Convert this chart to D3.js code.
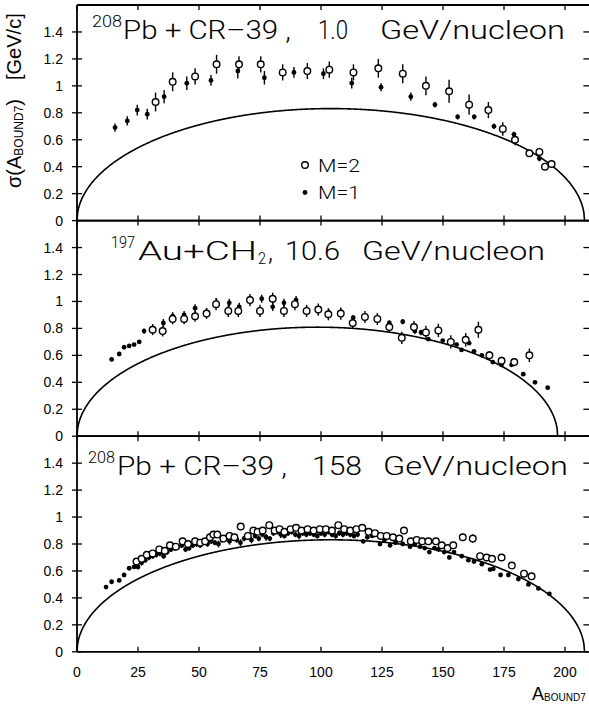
<!DOCTYPE html>
<html>
<head>
<meta charset="utf-8">
<script src="https://cdn.jsdelivr.net/npm/d3@7"></script>
<style>
  body { margin: 0; background: #fff; }
  svg { display: block; }
  text { font-family: "Liberation Sans", Arial, Helvetica, sans-serif; fill: #000; }
  text.title { font-family: Roboto, "Liberation Sans", Arial, sans-serif; font-weight: 300; }
</style>
</head>
<body>
<svg id="chart" width="589" height="706"></svg>
<script>
// ---- Panel 1: 208Pb + CR-39, 1.0 GeV/nucleon ----
const p1_m1_A     = [15.6, 20.6, 24.7, 28.8, 35.7, 45.0, 54.9, 65.9, 76.8, 88.9, 101.0, 112.6, 124.6, 136.8, 146.7, 156.0, 162.8, 170.9, 179.1, 189.5];
const p1_m1_sigma = [0.69, 0.74, 0.82, 0.79, 0.92, 1.02, 1.04, 1.11, 1.06, 1.10, 1.09, 1.02, 0.99, 0.92, 0.86, 0.77, 0.77, 0.70, 0.64, 0.46];
const p1_m1_err   = [0.03, 0.035, 0.04, 0.04, 0.05, 0.05, 0.04, 0.055, 0.05, 0.04, 0.04, 0.04, 0.03, 0.03, 0.02, 0.02, 0.02, 0.02, 0.02, 0.02];

const p1_m2_A     = [32.2, 39.2, 48.4, 57.2, 66.4, 75.3, 84.3, 94.4, 103.4, 113.3, 123.5, 133.5, 143.0, 152.5, 160.7, 168.6, 174.5, 179.5, 185.4, 189.5, 191.8, 194.5];
const p1_m2_sigma = [0.88, 1.03, 1.07, 1.16, 1.16, 1.16, 1.10, 1.11, 1.12, 1.10, 1.13, 1.09, 1.00, 0.96, 0.86, 0.82, 0.68, 0.60, 0.50, 0.51, 0.40, 0.42];
const p1_m2_err   = [0.07, 0.07, 0.06, 0.07, 0.06, 0.06, 0.06, 0.06, 0.06, 0.06, 0.07, 0.07, 0.07, 0.085, 0.075, 0.06, 0.05, 0.04, 0.02, 0.03, 0.02, 0.02];

// ---- Panel 2: 197Au + CH2, 10.6 GeV/nucleon ----
const p2_m1_A     = [14.2, 17.3, 19.3, 21.4, 23.4, 25.5, 27.5, 31.0, 35.4, 39.2, 43.9, 48.4, 53.1, 57.2, 62.4, 66.5, 70.9, 75.7, 80.2, 84.8, 89.8, 94.1, 98.9, 103.4, 108.1, 113.2, 118.0, 123.1, 128.0, 133.5, 138.5, 141.0, 144.0, 149.9, 155.6, 157.6, 160.7, 162.7, 165.9, 169.0, 170.4, 174.0, 178.1, 182.9, 187.7, 192.9];
const p2_m1_sigma = [0.57, 0.61, 0.66, 0.67, 0.68, 0.70, 0.78, 0.80, 0.84, 0.89, 0.90, 0.95, 0.92, 0.99, 0.99, 0.96, 1.01, 1.02, 0.96, 0.99, 1.01, 0.94, 0.93, 0.91, 0.92, 0.88, 0.89, 0.87, 0.84, 0.85, 0.78, 0.77, 0.72, 0.71, 0.68, 0.64, 0.69, 0.63, 0.60, 0.61, 0.55, 0.53, 0.53, 0.46, 0.40, 0.36];
const p2_m1_err   = [0.01, 0.01, 0.01, 0.01, 0.01, 0.01, 0.02, 0.03, 0.03, 0.03, 0.03, 0.03, 0.03, 0.03, 0.03, 0.03, 0.03, 0.03, 0.03, 0.03, 0.03, 0.03, 0.03, 0.03, 0.03, 0.02, 0.02, 0.02, 0.02, 0.02, 0.02, 0.02, 0.01, 0.01, 0.01, 0.01, 0.01, 0.01, 0.01, 0.01, 0.01, 0.01, 0.01, 0.01, 0.01, 0.01];

const p2_m2_A     = [31.0, 35.1, 39.2, 43.9, 48.4, 53.1, 57.0, 62.0, 66.1, 70.9, 75.0, 80.2, 84.8, 89.3, 94.1, 98.9, 103.0, 108.1, 113.0, 118.0, 123.1, 128.0, 133.1, 138.1, 143.0, 148.1, 153.2, 159.3, 164.5, 169.0, 174.0, 179.2, 185.4];
const p2_m2_sigma = [0.79, 0.78, 0.87, 0.87, 0.89, 0.91, 0.98, 0.93, 0.93, 1.01, 0.93, 1.02, 0.93, 0.98, 0.93, 0.94, 0.905, 0.91, 0.84, 0.885, 0.87, 0.81, 0.73, 0.81, 0.77, 0.785, 0.70, 0.715, 0.79, 0.60, 0.56, 0.55, 0.60];
const p2_m2_err   = [0.04, 0.04, 0.04, 0.04, 0.04, 0.04, 0.045, 0.045, 0.045, 0.045, 0.045, 0.045, 0.045, 0.045, 0.045, 0.045, 0.045, 0.045, 0.045, 0.045, 0.045, 0.045, 0.045, 0.045, 0.05, 0.05, 0.05, 0.05, 0.06, 0.03, 0.03, 0.03, 0.05];

// ---- Panel 3: 208Pb + CR-39, 158 GeV/nucleon ----
const p3_m1_A     = [11.9, 14.2, 17.3, 19.3, 21.4, 23.4, 25.0, 26.5, 28.0, 29.5, 31.0, 32.5, 34.0, 35.5, 37.0, 38.5, 40.0, 41.5, 43.0, 44.5, 46.0, 47.5, 49.0, 50.5, 52.0, 53.5, 55.0, 56.5, 58.0, 59.5, 61.0, 62.5, 64.0, 65.5, 67.0, 68.5, 70.0, 71.5, 73.0, 74.5, 76.0, 77.5, 79.0, 80.5, 82.0, 83.5, 85.0, 86.5, 88.0, 89.5, 91.0, 92.5, 94.0, 95.5, 97.0, 98.5, 100.0, 101.5, 103.0, 104.5, 106.0, 107.5, 109.0, 110.5, 112.0, 113.5, 115.0, 117.3, 119.0, 121.0, 124.2, 126.0, 128.3, 130.5, 133.5, 136.5, 138.5, 140.6, 142.5, 144.4, 146.5, 148.1, 150.5, 152.6, 154.5, 157.7, 160.4, 162.7, 165.9, 169.3, 170.6, 173.6, 176.8, 180.9, 185.0, 189.1, 193.6];
const p3_m1_sigma = [0.48, 0.52, 0.53, 0.57, 0.62, 0.63, 0.63, 0.66, 0.68, 0.70, 0.71, 0.72, 0.73, 0.71, 0.74, 0.76, 0.77, 0.78, 0.79, 0.76, 0.77, 0.79, 0.80, 0.79, 0.81, 0.80, 0.82, 0.81, 0.80, 0.83, 0.84, 0.82, 0.85, 0.83, 0.81, 0.84, 0.85, 0.83, 0.86, 0.84, 0.87, 0.85, 0.84, 0.88, 0.89, 0.87, 0.86, 0.88, 0.89, 0.87, 0.86, 0.88, 0.87, 0.88, 0.87, 0.86, 0.88, 0.87, 0.89, 0.87, 0.86, 0.88, 0.87, 0.88, 0.87, 0.86, 0.87, 0.82, 0.85, 0.86, 0.80, 0.83, 0.79, 0.81, 0.80, 0.78, 0.80, 0.78, 0.77, 0.74, 0.77, 0.76, 0.74, 0.70, 0.74, 0.71, 0.68, 0.67, 0.65, 0.61, 0.615, 0.57, 0.57, 0.54, 0.50, 0.47, 0.43];
const p3_m1_err   = [0.01, 0.01, 0.01, 0.01, 0.01, 0.015, 0.02, 0.02, 0.02, 0.02, 0.02, 0.02, 0.02, 0.02, 0.02, 0.02, 0.02, 0.02, 0.02, 0.02, 0.02, 0.02, 0.02, 0.02, 0.02, 0.02, 0.02, 0.02, 0.025, 0.02, 0.02, 0.025, 0.02, 0.02, 0.025, 0.02, 0.02, 0.025, 0.02, 0.02, 0.02, 0.025, 0.02, 0.02, 0.02, 0.025, 0.02, 0.02, 0.02, 0.02, 0.025, 0.02, 0.02, 0.02, 0.02, 0.02, 0.02, 0.02, 0.02, 0.02, 0.02, 0.02, 0.02, 0.02, 0.02, 0.02, 0.02, 0.015, 0.015, 0.015, 0.015, 0.015, 0.015, 0.015, 0.015, 0.015, 0.015, 0.015, 0.015, 0.015, 0.015, 0.015, 0.015, 0.015, 0.015, 0.01, 0.01, 0.01, 0.01, 0.01, 0.01, 0.01, 0.01, 0.01, 0.01, 0.01, 0.01];

const p3_m2_A     = [24.4, 26.5, 28.6, 31.0, 33.7, 36.0, 38.1, 40.5, 43.3, 45.5, 48.4, 50.5, 52.5, 54.5, 55.9, 57.5, 60.0, 62.5, 64.5, 67.1, 70.0, 72.3, 74.0, 76.1, 78.8, 81.0, 83.0, 85.0, 87.5, 89.8, 92.0, 94.5, 97.0, 99.5, 102.0, 104.5, 107.1, 109.5, 112.0, 114.5, 116.9, 119.5, 122.1, 124.5, 126.9, 129.5, 132.1, 134.0, 136.8, 139.2, 141.5, 144.0, 147.1, 149.5, 151.9, 154.2, 158.1, 162.2, 165.2, 167.9, 170.1, 174.0, 178.2, 183.2, 186.3];
const p3_m2_sigma = [0.67, 0.69, 0.72, 0.73, 0.76, 0.75, 0.79, 0.78, 0.82, 0.80, 0.82, 0.81, 0.82, 0.85, 0.87, 0.87, 0.84, 0.86, 0.85, 0.93, 0.86, 0.90, 0.89, 0.90, 0.94, 0.90, 0.91, 0.89, 0.91, 0.92, 0.90, 0.91, 0.90, 0.91, 0.91, 0.90, 0.94, 0.91, 0.90, 0.91, 0.92, 0.89, 0.88, 0.86, 0.86, 0.85, 0.84, 0.90, 0.82, 0.83, 0.82, 0.82, 0.82, 0.79, 0.77, 0.79, 0.85, 0.84, 0.71, 0.70, 0.69, 0.70, 0.64, 0.58, 0.56];
const p3_m2_err   = [0.02, 0.02, 0.02, 0.02, 0.02, 0.02, 0.02, 0.02, 0.02, 0.02, 0.02, 0.02, 0.02, 0.02, 0.02, 0.02, 0.02, 0.02, 0.02, 0.02, 0.02, 0.02, 0.02, 0.02, 0.02, 0.02, 0.02, 0.02, 0.02, 0.02, 0.02, 0.02, 0.02, 0.02, 0.02, 0.02, 0.02, 0.02, 0.02, 0.02, 0.02, 0.02, 0.02, 0.02, 0.02, 0.02, 0.02, 0.025, 0.02, 0.02, 0.02, 0.02, 0.02, 0.02, 0.02, 0.02, 0.025, 0.03, 0.02, 0.02, 0.02, 0.02, 0.02, 0.02, 0.02];

// Axis ticks
const xTickValues = [0, 25, 50, 75, 100, 125, 150, 175, 200];
const yTickValues = [0, 0.2, 0.4, 0.6, 0.8, 1.0, 1.2, 1.4];
const yLabelValues = [0, 0.2, 0.4, 0.6, 0.8, 1.0, 1.2, 1.4];

// Projectile masses and width parameter of the parabolic (Goldhaber) fragmentation curve
const projectileMass = [208, 197, 208];
const sigma0 = 0.115; // GeV/c

const legendLabels = ["M=2", "M=1"];

// Title fragments per panel
const titles = [
  [{t: "208", sup: true, x: 92, w: 30}, {t: "Pb + CR\u201339 ,", x: 123, w: 168}, {t: "1.0", x: 318, w: 30}, {t: "GeV/nucleon", x: 380, w: 185}],
  [{t: "197", sup: true, x: 111, w: 24}, {t: "Au+CH", x: 138, w: 119}, {t: "2", sub: true, x: 258, w: 8}, {t: ",", x: 268, w: 5}, {t: "10.6", x: 285, w: 55}, {t: "GeV/nucleon", x: 362, w: 183}],
  [{t: "208", sup: true, x: 88, w: 27}, {t: "Pb + CR\u201339 ,", x: 117, w: 170}, {t: "158", x: 312, w: 50}, {t: "GeV/nucleon", x: 383, w: 185}]
];
const titleBaseline = [34, 39, 39];

const panels = [
  {m1: [p1_m1_A, p1_m1_sigma, p1_m1_err], m2: [p1_m2_A, p1_m2_sigma, p1_m2_err]},
  {m1: [p2_m1_A, p2_m1_sigma, p2_m1_err], m2: [p2_m2_A, p2_m2_sigma, p2_m2_err]},
  {m1: [p3_m1_A, p3_m1_sigma, p3_m1_err], m2: [p3_m2_A, p3_m2_sigma, p3_m2_err]}
];

const svg = d3.select("#chart");
const left = 77, right = 589.4, top0 = 5, panelH = 215.6;
const x = d3.scaleLinear().domain([0, 210]).range([left, right]);
const fmt = d3.format("~g");

function zip(arr) { return arr[0].map((a, i) => ({A: a, s: arr[1][i], e: arr[2][i]})); }

panels.forEach((p, i) => {
  const yTop = top0 + i * panelH, yBot = yTop + panelH;
  const y = d3.scaleLinear().domain([0, 1.6]).range([yBot, yTop]);
  const g = svg.append("g");

  // frame lines
  g.append("line").attr("x1", left).attr("x2", right).attr("y1", yTop).attr("y2", yTop)
    .attr("stroke", "#000").attr("stroke-width", 1.8);
  g.append("line").attr("x1", left).attr("x2", right).attr("y1", yBot).attr("y2", yBot)
    .attr("stroke", "#000").attr("stroke-width", 1.8);
  g.append("line").attr("x1", left).attr("x2", left).attr("y1", yTop).attr("y2", yBot)
    .attr("stroke", "#000").attr("stroke-width", 1.8);

  // x ticks, inward at top and bottom
  xTickValues.forEach(v => {
    g.append("line").attr("x1", x(v)).attr("x2", x(v)).attr("y1", yTop).attr("y2", yTop + 5)
      .attr("stroke", "#000").attr("stroke-width", 1.3);
    g.append("line").attr("x1", x(v)).attr("x2", x(v)).attr("y1", yBot).attr("y2", yBot - 5)
      .attr("stroke", "#000").attr("stroke-width", 1.3);
  });
  // y ticks on left (crossing) and right (inward)
  yTickValues.forEach(v => {
    g.append("line").attr("x1", left - 5).attr("x2", left + 5).attr("y1", y(v)).attr("y2", y(v))
      .attr("stroke", "#000").attr("stroke-width", 1.3);
    g.append("line").attr("x1", right - 6).attr("x2", right).attr("y1", y(v)).attr("y2", y(v))
      .attr("stroke", "#000").attr("stroke-width", 1.3);
  });
  yLabelValues.forEach(v => {
    g.append("text").attr("x", 63).attr("y", y(v) + 5).attr("text-anchor", "end")
      .attr("font-size", 14).text(fmt(v));
  });

  // theory curve
  const Ap = projectileMass[i];
  const curveData = d3.range(0, Ap, 0.25).concat([Ap]).map(a => [a, sigma0 * Math.sqrt(a * (Ap - a) / (Ap - 1))]);
  g.append("path").datum(curveData)
    .attr("d", d3.line().x(d => x(d[0])).y(d => y(d[1])))
    .attr("fill", "none").attr("stroke", "#000").attr("stroke-width", 1.6);

  const d1 = zip(p.m1), d2 = zip(p.m2);
  // error bars
  g.selectAll(null).data(d1.concat(d2)).enter().append("line")
    .attr("x1", d => x(d.A)).attr("x2", d => x(d.A))
    .attr("y1", d => y(d.s - d.e)).attr("y2", d => y(d.s + d.e))
    .attr("stroke", "#000").attr("stroke-width", 1.4);
  // M=1 solid dots
  g.selectAll(null).data(d1).enter().append("circle")
    .attr("cx", d => x(d.A)).attr("cy", d => y(d.s)).attr("r", 2.4).attr("fill", "#000");
  // M=2 open circles
  g.selectAll(null).data(d2).enter().append("circle")
    .attr("cx", d => x(d.A)).attr("cy", d => y(d.s)).attr("r", 3.3)
    .attr("fill", "#fff").attr("stroke", "#000").attr("stroke-width", 1.4);

  // title
  const base = yTop + titleBaseline[i];
  titles[i].forEach(f => {
    g.append("text").attr("class", "title").attr("x", f.x)
      .attr("y", f.sup ? base - 12 : (f.sub ? base + 4 : base))
      .attr("font-size", (f.sup || f.sub) ? 16 : 26)
      .attr("textLength", f.w).attr("lengthAdjust", "spacingAndGlyphs")
      .text(f.t);
  });

  if (i === 0) {
    const lg = g.append("g");
    lg.append("circle").attr("cx", 305).attr("cy", 165).attr("r", 3.3)
      .attr("fill", "#fff").attr("stroke", "#000").attr("stroke-width", 1.4);
    lg.append("circle").attr("cx", 305).attr("cy", 192.5).attr("r", 2.4).attr("fill", "#000");
    lg.append("text").attr("class", "title").attr("x", 318).attr("y", 171.5).attr("font-size", 18)
      .attr("textLength", 42).attr("lengthAdjust", "spacingAndGlyphs").text(legendLabels[0]);
    lg.append("text").attr("class", "title").attr("x", 318).attr("y", 199).attr("font-size", 18)
      .attr("textLength", 42).attr("lengthAdjust", "spacingAndGlyphs").text(legendLabels[1]);
  }

  if (i === 2) {
    xTickValues.forEach(v => {
      g.append("text").attr("x", x(v)).attr("y", yBot + 25).attr("text-anchor", "middle")
        .attr("font-size", 14).text(v);
    });
  }
});

// y-axis title (rotated, reading upward)
const yl = svg.append("text").attr("transform", "translate(21,188) rotate(-90)").attr("font-size", 20);
yl.append("tspan").text("\u03c3(A");
yl.append("tspan").attr("font-size", 12).attr("dy", 2).text("BOUND7");
yl.append("tspan").attr("dy", -2).text(")");
svg.append("text").attr("transform", "translate(21,80) rotate(-90)").attr("font-size", 20)
  .text("[GeV/c]");

// x-axis title
const xl = svg.append("text").attr("x", 532).attr("y", 700).attr("font-size", 18);
xl.append("tspan").text("A");
xl.append("tspan").attr("font-size", 10).attr("dy", 1).text("BOUND7");
</script>
</body>
</html>
